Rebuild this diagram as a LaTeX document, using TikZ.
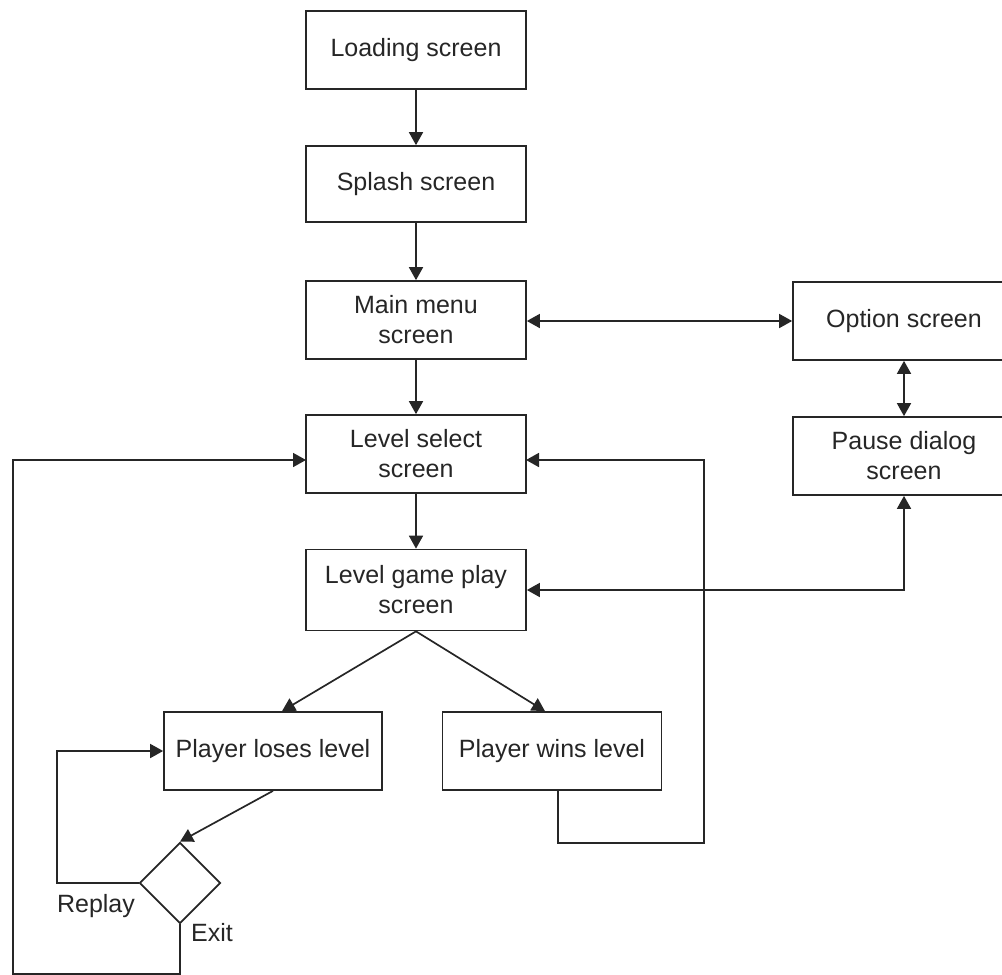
\documentclass[tikz,border=0pt]{standalone}
\usepackage{fontspec}
\setmainfont{Liberation Sans}
\usetikzlibrary{arrows.meta,shapes.geometric}
\begin{document}
\begin{tikzpicture}[x=1pt,y=-1pt,
  box/.style={draw=black!85, text=black!85, line width=1.7pt, minimum width=220pt, minimum height=78pt, inner sep=0pt, align=center, font=\fontsize{25}{30}\selectfont},
  dec/.style={draw=black!85, line width=1.7pt, diamond, shape aspect=1, minimum width=81pt, minimum height=81pt, inner sep=0pt},
  conn/.style={draw=black!85, line width=1.7pt, -{Triangle[length=13pt,width=14pt]}},
  bconn/.style={draw=black!85, line width=1.7pt, {Triangle[length=13pt,width=14pt]}-{Triangle[length=13pt,width=14pt]}},
  lbl/.style={text=black!85, font=\fontsize{25}{30}\selectfont, inner sep=0pt}]
\useasboundingbox (0,0) rectangle (1002,975);
\clip (0,0) rectangle (1002,975);
\node[box] (load) at (416,50) {Loading screen};
\node[box, minimum height=76pt] (splash) at (416,184) {Splash screen};
\node[box] (main) at (416,320) {Main menu\\screen};
\node[box] (lsel) at (416,454) {Level select\\screen};
\node[box, minimum height=81pt] (lgp) at (416,590) {Level game play\\screen};
\node[box, minimum width=222pt] (opt) at (904,321) {Option screen};
\node[box, minimum width=222pt] (pause) at (904,456) {Pause dialog\\screen};
\node[box, minimum width=218pt] (lose) at (273,751) {Player loses level};
\node[box, minimum width=219pt] (win) at (552,751) {Player wins level};
\node[dec] (dia) at (180,883) {};
\node[lbl] (replay) at (96,906) {Replay};
\node[lbl] (exit) at (212,933) {Exit};
\coordinate (lselL) at (306,460);
\coordinate (lselR) at (526,460);
\draw[conn] (load) -- (splash);
\draw[conn] (splash) -- (main);
\draw[conn] (main) -- (lsel);
\draw[conn] (lsel) -- (lgp);
\draw[bconn] ([yshift=-1pt]main.east) -- (opt.west);
\draw[bconn] (opt) -- (pause);
\draw[bconn] (lgp.east) -| (pause.south);
\draw[conn] (lgp.south) -- ([xshift=9pt]lose.north);
\draw[conn] (lgp.south) -- ([xshift=-7pt]win.north);
\draw[conn] (lose.south) -- (dia.north);
\draw[conn] (dia.west) -- (57,883) |- (lose.west);
\draw[conn] (dia.south) -- (180,974) -- (13,974) |- (lselL);
\draw[conn] ([xshift=6pt]win.south) -- (558,843) -- (704,843) |- (lselR);
\end{tikzpicture}
\end{document}
